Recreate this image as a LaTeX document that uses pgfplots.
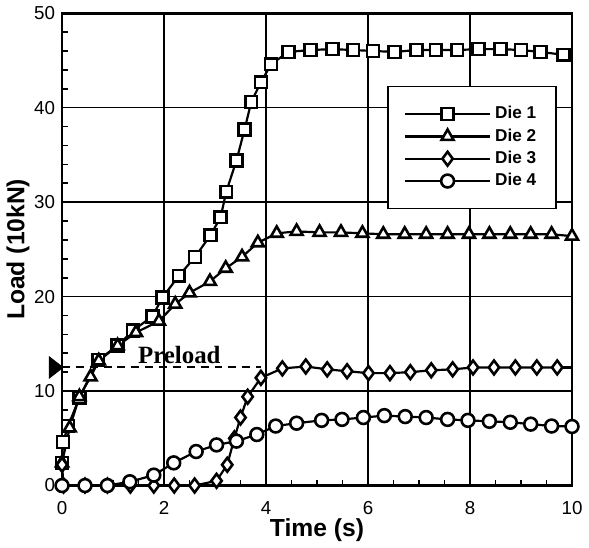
\documentclass[border=0pt]{standalone}
\usepackage{pgfplots}
\pgfplotsset{compat=1.18}
\usepackage{fontspec}
\setmainfont{Liberation Sans}
\newfontfamily\preloadfont{Liberation Serif}
\begin{document}
\begin{tikzpicture}
\begin{axis}[
  scale only axis,
  width=257.5bp, height=238.5bp,
  xmin=0, xmax=10, ymin=0, ymax=50,
  clip=false,
  xtick={0,2,...,10}, ytick={0,10,...,50},
  minor x tick num=3, minor y tick num=4,
  tick pos=left,
  tick align=inside,
  major tick length=5bp, minor tick length=3bp,
  every tick/.style={black, line width=0.8bp},
  grid=major,
  major grid style={black, line width=0.7bp},
  axis line style={black, line width=1.4bp},
  /pgf/number format/assume math mode=true,
  tick label style={font=\fontsize{9.5}{11}\selectfont},
  xticklabel style={yshift=-4.5bp},
  xlabel={\bfseries Time (s)},
  ylabel={\bfseries Load (10kN)},
  label style={font=\fontsize{12.5}{15}\selectfont},
  xlabel style={yshift=5bp},
  ylabel style={yshift=-4.5bp},
  legend cell align=left,
  legend style={at={(0.97,0.846)}, anchor=north east, draw=black, line width=0.7bp,
    font=\fontsize{8.7}{10}\selectfont\bfseries, inner xsep=8bp, inner ysep=8bp,
    row sep=-0.5bp},
  legend image code/.code={%
    \draw[#1, mark repeat=2, mark phase=2] plot coordinates {(0bp,0bp) (21.5bp,0bp) (43bp,0bp)};%
  },
  every axis plot/.append style={black, line width=1.1bp, mark options={solid, fill=white, line width=1.3bp}},
]
\addplot[mark=square*, mark size=3bp] coordinates {
(0,2.4)(0.02,4.6)(0.12,6.3)(0.34,9.3)(0.71,13.3)(1.09,14.8)(1.39,16.4)(1.77,17.9)(1.97,19.9)
(2.29,22.2)(2.61,24.2)(2.91,26.5)(3.11,28.4)(3.22,31.1)(3.42,34.4)(3.58,37.7)(3.71,40.6)
(3.90,42.7)(4.10,44.6)(4.44,45.9)(4.87,46.1)(5.30,46.2)(5.71,46.1)(6.10,46.0)(6.52,45.9)
(6.95,46.1)(7.33,46.1)(7.75,46.1)(8.17,46.2)(8.60,46.2)(9.00,46.1)(9.38,45.9)(9.83,45.6)
};
\addlegendentry{Die 1}
\addplot[mark=triangle*, mark size=3.5bp] coordinates {
(0,2.4)(0.15,6.1)(0.34,9.4)(0.56,11.5)(0.72,13.2)(1.09,14.8)(1.45,16.2)(1.90,17.4)(2.22,19.2)
(2.50,20.4)(2.90,21.6)(3.21,23.0)(3.53,24.2)(3.84,25.7)(4.21,26.7)(4.60,26.9)(5.05,26.8)
(5.47,26.8)(5.89,26.7)(6.30,26.6)(6.72,26.6)(7.14,26.6)(7.56,26.6)(7.98,26.6)(8.38,26.6)
(8.79,26.6)(9.19,26.6)(9.60,26.6)(10.0,26.4)
};
\addlegendentry{Die 2}
\addplot[mark=diamond*, mark size=3.5bp] coordinates {
(0,2.2)(0.03,0)(0.45,0)(0.89,0)(1.34,0)(1.80,0)(2.20,0)(2.60,0)(3.03,0.5)(3.24,2.2)
(3.38,5.0)(3.50,7.2)(3.64,9.4)(3.90,11.4)(4.32,12.4)(4.78,12.6)(5.20,12.3)(5.59,12.1)
(6.01,11.9)(6.43,11.9)(6.83,12.0)(7.24,12.2)(7.66,12.3)(8.06,12.5)(8.47,12.5)(8.89,12.5)
(9.31,12.5)(9.71,12.5)
};
\addlegendentry{Die 3}
\addplot[mark=*, mark size=3.25bp] coordinates {
(0,0)(0.45,0)(0.89,0)(1.33,0.4)(1.80,1.1)(2.19,2.4)(2.63,3.6)(3.03,4.3)(3.42,4.7)(3.82,5.4)
(4.19,6.3)(4.60,6.6)(5.09,6.9)(5.49,7.0)(5.91,7.2)(6.32,7.4)(6.73,7.3)(7.14,7.2)(7.56,7.0)
(7.96,6.9)(8.38,6.8)(8.79,6.7)(9.19,6.5)(9.60,6.3)(10.0,6.25)
};
\addlegendentry{Die 4}
\addplot[no marks, forget plot] coordinates {(9.71,12.5)(10,12.5)};
\addplot[no marks, forget plot, dash pattern=on 4bp off 3bp, line width=1bp] coordinates {(0,12.5)(3.9,12.5)};
\addplot[only marks, forget plot, mark=triangle*, mark size=4.67bp,
  mark options={fill=black, draw=black, yscale=1.35, rotate=-90, line width=0.3bp}] coordinates {(-0.16,12.5)};
\node[anchor=base, font=\preloadfont\bfseries\fontsize{12.6}{15}\selectfont, inner sep=0pt] at (axis cs:2.3,12.9) {Preload};
\end{axis}
\end{tikzpicture}
\end{document}
